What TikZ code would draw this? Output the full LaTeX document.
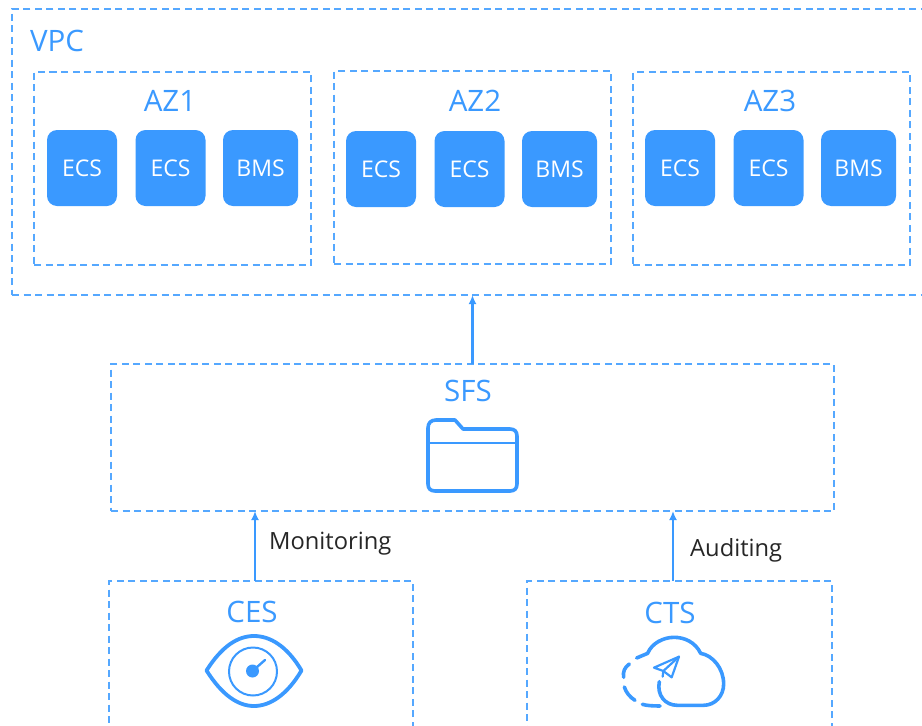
\documentclass[tikz,border=0pt]{standalone}
\usepackage{fontspec}
\setmainfont{Open Sans}
\usetikzlibrary{arrows.meta}
\definecolor{hwblue}{HTML}{3A99FF}
\definecolor{hwdash}{HTML}{55A8FF}
\tikzset{
  dashbox/.style={draw=hwdash, line width=1.6pt, dash pattern=on 7pt off 4.5pt, inner sep=0pt, outer sep=0pt},
  block/.style={fill=hwblue, rounded corners=10pt, inner sep=0pt, outer sep=0pt, text=white, font=\fontsize{23}{26}\selectfont},
  title/.style={text=hwblue, inner sep=0pt, font=\fontsize{29.5}{34}\selectfont},
  linktext/.style={text=black!85, inner sep=0pt, font=\fontsize{23.7}{26}\selectfont},
  link/.style={draw=hwblue, line width=2.2pt, -{Latex[length=9pt,width=8pt]}},
  icon/.style={draw=hwblue, line width=3.6pt, line cap=round, line join=round}
}
\newcommand{\drawzone}[7] {
  % zone box, #3/#4 = top left corner, #5 = title x, #6/#7 = origin of the blocks
  \node[dashbox, minimum width=277pt, minimum height=193pt] (#1) at (#3+138.5,#4+96.5) {};
  \node[title] (#1title) at (#5,101) {#2};
  \foreach \lbl/\dx/\blockw [count=\i] in {ECS/13/70, ECS/101.5/70, BMS/191.5/75} {
    \node[block, minimum width=\blockw pt, minimum height=76pt] (#1block\i) at (#6+\dx+35,#7) {\lbl};
  }
}
\begin{document}
\begin{tikzpicture}[x=1pt, y=-1pt]
  \path[use as bounding box, clip] (0,0) rectangle (922,726);
  \node[dashbox, minimum width=930pt, minimum height=286pt] (vpc) at (477,152) {};
  \node[title] (vpctitle) at (57,41) {VPC};
  \drawzone{azone}{AZ1}{34}{72}{170}{34}{168}
  \drawzone{bzone}{AZ2}{334}{71}{475}{333}{169}
  \drawzone{czone}{AZ3}{633}{72}{770}{632}{168}
  % right edge of the third zone sits on the border of the page
  \node[dashbox, minimum width=723pt, minimum height=147pt] (sfs) at (472.5,437.5) {};
  \node[title] (sfstitle) at (468,391) {SFS};
  \node[dashbox, minimum width=304pt, minimum height=200pt] (ces) at (261,681) {};
  \node[title] (cestitle) at (252,612) {CES};
  \node[dashbox, minimum width=305pt, minimum height=200pt] (cts) at (679.5,681) {};
  \node[title] (ctstitle) at (670,613) {CTS};

  \coordinate (monitor) at (255,581);
  \coordinate (audit) at (673,581);
  \draw[link] (sfs.north) -- (sfs.north |- vpc.south);
  \draw[link] (monitor) -- (monitor |- sfs.south);
  \draw[link] (audit) -- (audit |- sfs.south);
  \node[linktext, anchor=west] (monitortext) at (269,544) {Monitoring};
  \node[linktext, anchor=west] (audittext) at (690,550) {Auditing};

  % folder
  \draw[icon] (436,420) -- (455,420) -- (463,429) -- (510,429)
    .. controls (514.5,429) and (517,431.5) .. (517,436) -- (517,484)
    .. controls (517,488.5) and (514.5,491) .. (510,491) -- (435,491)
    .. controls (430.5,491) and (428,488.5) .. (428,484) -- (428,428)
    .. controls (428,423) and (431,420) .. (436,420) -- cycle;
  \draw[icon, line width=2pt] (428,443) -- (517,443);

  % eye
  \draw[icon, line width=3.8pt] (206.5,670.5)
    .. controls (222,646) and (238,636) .. (254,636)
    .. controls (270,636) and (287,646) .. (301.5,670.5)
    .. controls (287,695) and (270,706) .. (254,706)
    .. controls (238,706) and (222,695) .. (206.5,670.5) -- cycle;
  \draw[icon, line width=2pt] (253,671.5) circle (24);
  \fill[hwblue] (252.5,671) circle (6.5);
  \draw[icon, line width=2.4pt] (252.5,671) -- (265,660);

  % cloud with dashed left part
  \begin{scope}[shift={(600,590)}, x=0.3333pt, y=-0.3333pt]
    \draw[icon] (178,275) .. controls (170,315) and (195,346) .. (232,346)
      -- (310,346) .. controls (345,346) and (371,318) .. (371,282)
      .. controls (371,235) and (338,196) .. (302,190)
      .. controls (285,155) and (252,142) .. (222,142)
      .. controls (190,142) and (155,160) .. (143,190) -- (110,204);
    \draw[icon] (88,222) .. controls (74,232) and (68,245) .. (71,262);
    \draw[icon] (73,291) .. controls (78,307) and (90,322) .. (105,331);
    \draw[icon] (127,343) .. controls (140,347) and (160,348) .. (180,348);
    \draw[icon, line width=2.2pt] (237,200) -- (162,233) -- (190,243) -- (215,262) -- cycle;
    \draw[icon, line width=2.2pt] (237,200) -- (190,243) -- (188,260);
  \end{scope}
\end{tikzpicture}
\end{document}
